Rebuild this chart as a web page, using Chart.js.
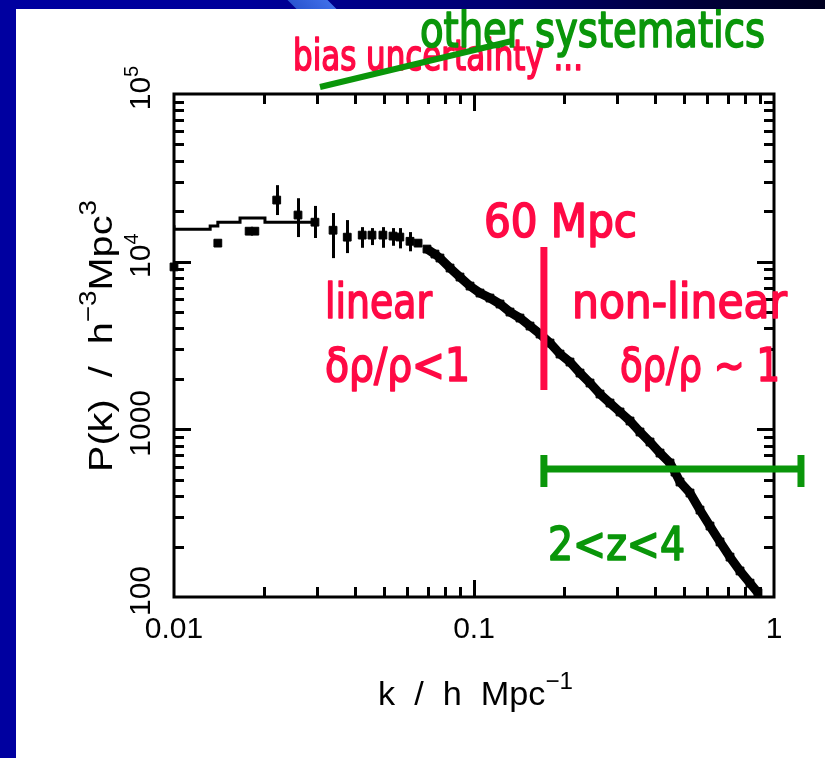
<!DOCTYPE html>
<html>
<head>
<meta charset="utf-8">
<script src="https://cdn.jsdelivr.net/npm/chart.js@4.4.1/dist/chart.umd.min.js"></script>
<style>
  html, body { margin: 0; padding: 0; background: #fff; }
  #wrap { position: relative; width: 825px; height: 758px; overflow: hidden; background: #fff; }
  #c { position: absolute; left: 0; top: 0; }
  .bar-top { position: absolute; left: 0; top: 0; width: 825px; height: 9px;
    background: linear-gradient(to right, #0000a0 0%, #00009a 30%, #000070 60%, #000038 85%, #000020 100%); overflow: hidden; }
  .streak { position: absolute; left: 292px; top: 0; width: 40px; height: 9px;
    background: linear-gradient(to right, #2a55d0, #3f6fe8); transform: skewX(45deg); }
  .bar-left { position: absolute; left: 0; top: 0; width: 16px; height: 758px; background: #0000a0; }
</style>
</head>
<body>
<div id="wrap">
  <canvas id="c" width="825" height="758"></canvas>
  <div class="bar-top"><div class="streak"></div></div>
  <div class="bar-left"></div>
</div>
<script>
// ---- large-scale band powers (with 1-sigma errors) ----
const kLow    = [0.0100, 0.0140, 0.0178, 0.0186, 0.0220, 0.0259, 0.0295, 0.0339, 0.0378, 0.0424, 0.0457, 0.0497, 0.0537, 0.0566, 0.0612, 0.0651];
const pLow    = [9300, 12900, 15200, 15200, 23300, 18970, 17200, 15400, 14000, 14400, 14400, 14400, 14210, 14020, 13230, 12900];
const pLowMin = [null, null, null, null, 18970, 14020, 13840, 10500, 11250, 12100, 12560, 12100, 12440, 12000, 11530, null];
const pLowMax = [null, null, null, null, 28600, 23900, 21500, 19500, 17700, 16070, 15860, 16070, 15860, 15860, 15010, null];

// ---- binned curve at the largest scales ----
const kStep = [0.0100, 0.0132, 0.0140, 0.0166, 0.0201, 0.0262, 0.0300];
const pStep = [16500, 15600, 16300, 17200, 18200, 17200, 17200];

// ---- densely sampled power spectrum ----
const kHigh = [0.0697, 0.0741, 0.0770, 0.0832, 0.0898, 0.0970, 0.1047, 0.1130, 0.1221, 0.1318, 0.1423, 0.1537,
               0.1660, 0.1792, 0.1935, 0.2089, 0.2256, 0.2436, 0.2630, 0.2840, 0.3067, 0.3311, 0.3575, 0.3861,
               0.4169, 0.4501, 0.4677, 0.4860, 0.5248, 0.5666, 0.6118, 0.6607, 0.7134, 0.7703, 0.8318, 0.8844];
const pHigh = [11890, 11100, 10510, 9160, 8095, 7152, 6500, 6067, 5588, 5006, 4610, 4130,
               3701, 3270, 2812, 2519, 2166, 1889, 1624, 1435, 1269, 1121, 964, 840,
               722, 630, 556, 485, 417, 330, 265, 213, 173, 143, 121, 106];

// ---- axes ----
const xTickValues = [0.01, 0.1, 1];
const xTickLabels = ['0.01', '0.1', '1'];
const yTickValues = [100, 1000, 10000, 100000];
const yTickLabels = [['100', ''], ['1000', ''], ['10', '4'], ['10', '5']];
const xTitleParts = [['k  /  h  Mpc', 0], ['\u22121', 1]];
const yTitleParts = [['P(k)  /  h', 0], ['\u22123', 1], ['Mpc', 0], ['3', 1]];

// ---- markers: 60 Mpc scale and the 2<z<4 range ----
const scaleLineK = 0.171;
const scaleLineP = [1714, 12220];
const zRangeK = [0.171, 1.23];
const zRangeP = 580;
const zCapP = [453, 703];

const RED = '#ff0a45';
const GREEN = '#0a960a';
const HAND = '"Liberation Sans Narrow", "DejaVu Sans Condensed", "Liberation Sans", sans-serif';
const AXF = '"Liberation Sans", "DejaVu Sans", sans-serif';

function drawRich(ctx, parts, font, supFont, rise, width, center) {
  let total = 0;
  const widths = parts.map(p => { ctx.font = p[1] ? supFont : font; const w = ctx.measureText(p[0]).width; total += w; return w; });
  const sx = width ? width / total : 1;
  ctx.save();
  if (center) ctx.translate(-total * sx / 2, 0);
  ctx.scale(sx, 1);
  ctx.textAlign = 'left';
  ctx.textBaseline = 'alphabetic';
  let cx = 0;
  parts.forEach((p, i) => {
    ctx.font = p[1] ? supFont : font;
    ctx.fillText(p[0], cx, p[1] ? -rise : 0);
    cx += widths[i];
  });
  ctx.restore();
}

// marker-pen style note, stretched to span x0..x1
function fitText(ctx, str, x0, x1, baseline, size, color) {
  ctx.save();
  ctx.fillStyle = color;
  ctx.strokeStyle = color;
  ctx.lineWidth = 1.6;
  ctx.lineJoin = 'round';
  ctx.font = size + 'px ' + HAND;
  ctx.textAlign = 'left';
  ctx.textBaseline = 'alphabetic';
  const w = ctx.measureText(str).width;
  ctx.translate(x0, baseline);
  ctx.scale((x1 - x0) / w, 1);
  ctx.fillText(str, 0, 0);
  ctx.strokeText(str, 0, 0);
  ctx.restore();
}

function logTicks(min, max) {
  const out = [];
  for (let e = Math.floor(Math.log10(min)); e <= Math.ceil(Math.log10(max)); e++) {
    for (let m = 1; m <= 9; m++) {
      const v = m * Math.pow(10, e);
      if (v > min * 1.0001 && v < max * 0.9999) out.push({ v, major: m === 1 });
    }
  }
  return out;
}

// error bars for the large-scale points
const errorBars = {
  id: 'errorBars',
  afterDatasetsDraw(chart) {
    const { ctx, scales: { x, y } } = chart;
    ctx.save();
    ctx.strokeStyle = '#000';
    ctx.lineWidth = 3;
    kLow.forEach((k, i) => {
      if (pLowMin[i] == null) return;
      const px = Math.round(x.getPixelForValue(k)) + 0.5;
      ctx.beginPath();
      ctx.moveTo(px, y.getPixelForValue(pLowMin[i]));
      ctx.lineTo(px, y.getPixelForValue(pLowMax[i]));
      ctx.stroke();
    });
    ctx.restore();
  }
};

// boxed frame with inward ticks on all four sides, labels and titles
const frameAxes = {
  id: 'frameAxes',
  afterDatasetsDraw(chart) {
    const { ctx, chartArea: a, scales: { x, y } } = chart;
    ctx.save();
    ctx.strokeStyle = '#000';
    ctx.lineWidth = 3;
    ctx.strokeRect(a.left, a.top, a.right - a.left, a.bottom - a.top);
    const seg = (x0, y0, x1, y1) => { ctx.beginPath(); ctx.moveTo(x0, y0); ctx.lineTo(x1, y1); ctx.stroke(); };
    logTicks(x.min, x.max).forEach(t => {
      const px = Math.round(x.getPixelForValue(t.v)) + 0.5;
      const L = t.major ? 17 : 10;
      seg(px, a.bottom, px, a.bottom - L);
      seg(px, a.top, px, a.top + L);
    });
    logTicks(y.min, y.max).forEach(t => {
      const py = Math.round(y.getPixelForValue(t.v)) + 0.5;
      const L = t.major ? 17 : 10;
      seg(a.left, py, a.left + L, py);
      seg(a.right, py, a.right - L, py);
    });

    ctx.fillStyle = '#000';
    ctx.font = '30px ' + AXF;
    ctx.textAlign = 'center';
    ctx.textBaseline = 'alphabetic';
    xTickValues.forEach((v, i) => {
      ctx.fillText(xTickLabels[i], x.getPixelForValue(v), a.bottom + 41);
    });
    yTickValues.forEach((v, i) => {
      ctx.save();
      ctx.translate(a.left - 24, y.getPixelForValue(v) - 6);
      ctx.rotate(-Math.PI / 2);
      drawRich(ctx, [[yTickLabels[i][0], 0], [yTickLabels[i][1], 1]], '30px ' + AXF, '20px ' + AXF, 12, 0, true);
      ctx.restore();
    });

    // axis titles
    ctx.save();
    ctx.translate(378, 705);
    drawRich(ctx, xTitleParts, '34px ' + AXF, '24px ' + AXF, 16, 195, false);
    ctx.restore();
    ctx.save();
    ctx.translate(112, 472);
    ctx.rotate(-Math.PI / 2);
    drawRich(ctx, yTitleParts, '34px ' + AXF, '24px ' + AXF, 16, 272, false);
    ctx.restore();
    ctx.restore();
  }
};

// hand-written notes, the 60 Mpc marker and the redshift range bar
const notes = {
  id: 'notes',
  afterDraw(chart) {
    const { ctx, scales: { x, y } } = chart;
    ctx.save();
    // red vertical marker
    ctx.strokeStyle = RED;
    ctx.lineWidth = 7;
    const lx = x.getPixelForValue(scaleLineK);
    ctx.beginPath();
    ctx.moveTo(lx, y.getPixelForValue(scaleLineP[0]));
    ctx.lineTo(lx, y.getPixelForValue(scaleLineP[1]));
    ctx.stroke();

    // green range bar with end caps
    ctx.strokeStyle = GREEN;
    ctx.lineWidth = 7;
    const gx0 = x.getPixelForValue(zRangeK[0]), gx1 = x.getPixelForValue(zRangeK[1]);
    const gy = y.getPixelForValue(zRangeP);
    ctx.beginPath(); ctx.moveTo(gx0, gy); ctx.lineTo(gx1, gy); ctx.stroke();
    [gx0, gx1].forEach(gx => {
      ctx.beginPath();
      ctx.moveTo(gx, y.getPixelForValue(zCapP[0]));
      ctx.lineTo(gx, y.getPixelForValue(zCapP[1]));
      ctx.stroke();
    });

    fitText(ctx, 'bias uncertainty ...', 293, 583, 70, 42, RED);
    ctx.strokeStyle = GREEN;
    ctx.lineWidth = 6;
    ctx.beginPath(); ctx.moveTo(320, 87); ctx.lineTo(512, 41); ctx.stroke();
    fitText(ctx, 'other systematics', 420, 765, 47, 50, GREEN);

    fitText(ctx, '60 Mpc', 484, 637, 237, 46, RED);
    fitText(ctx, 'linear', 325, 432, 318, 48, RED);
    fitText(ctx, '\u03b4\u03c1/\u03c1<1', 325, 470, 381, 46, RED);
    fitText(ctx, 'non-linear', 572, 787, 318, 48, RED);
    fitText(ctx, '\u03b4\u03c1/\u03c1 ~ 1', 620, 780, 381, 46, RED);
    fitText(ctx, '2<z<4', 548, 685, 560, 46, GREEN);
    ctx.restore();
  }
};

const chart = new Chart(document.getElementById('c'), {
  type: 'scatter',
  data: {
    datasets: [
      {
        data: kStep.map((k, i) => ({ x: k, y: pStep[i] })),
        showLine: true, stepped: 'after',
        borderColor: '#000', borderWidth: 3, pointRadius: 0
      },
      {
        data: kLow.map((k, i) => ({ x: k, y: pLow[i] })),
        showLine: false, pointStyle: 'rect', pointRadius: 5.5,
        backgroundColor: '#000', borderColor: '#000', borderWidth: 1, clip: false
      },
      {
        data: kHigh.map((k, i) => ({ x: k, y: pHigh[i] })),
        showLine: true, borderColor: '#000', borderWidth: 9, tension: 0,
        pointStyle: 'rect', pointRadius: 5.5,
        backgroundColor: '#000', pointBorderColor: '#000', pointBorderWidth: 1
      }
    ]
  },
  options: {
    responsive: false,
    animation: false,
    events: [],
    layout: { padding: { top: 94, right: 51, left: 0, bottom: 0 } },
    plugins: { legend: { display: false }, tooltip: { enabled: false } },
    scales: {
      x: {
        type: 'logarithmic', min: 0.01, max: 1,
        ticks: { display: false }, grid: { display: false }, border: { display: false },
        afterFit(s) { s.height = 161; }
      },
      y: {
        type: 'logarithmic', min: 100, max: 100000,
        ticks: { display: false }, grid: { display: false }, border: { display: false },
        afterFit(s) { s.width = 174; }
      }
    }
  },
  plugins: [errorBars, frameAxes, notes]
});
</script>
</body>
</html>
